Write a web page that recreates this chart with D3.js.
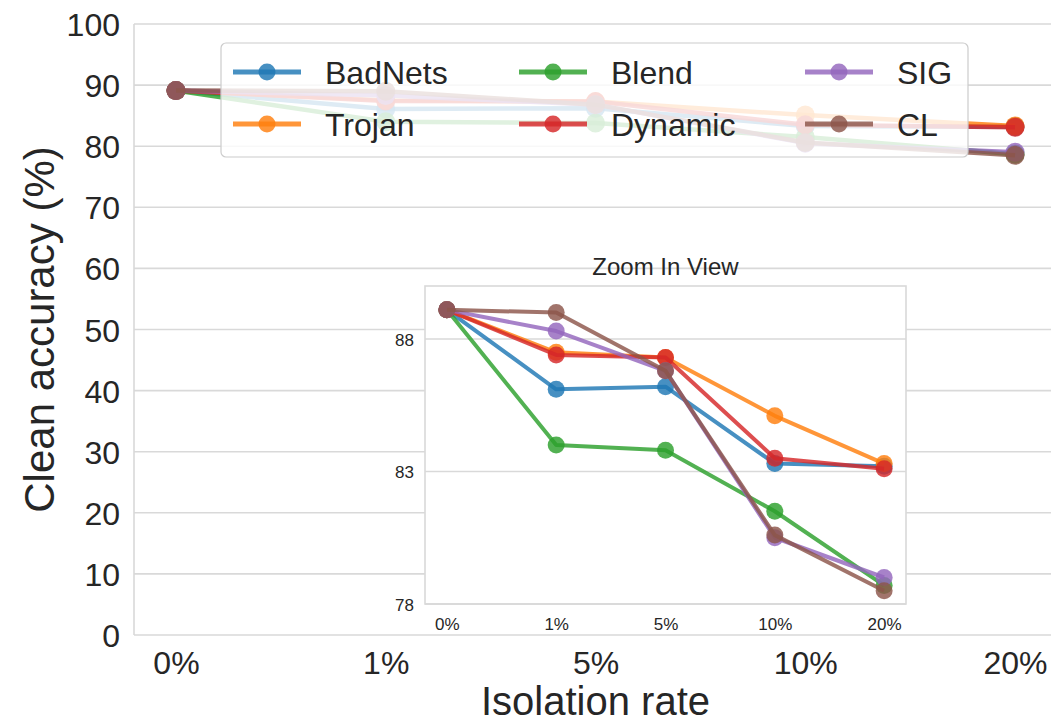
<!DOCTYPE html>
<html>
<head>
<meta charset="utf-8">
<script src="https://cdn.jsdelivr.net/npm/d3@7"></script>
<style>
  body { margin: 0; background: #fff; }
  svg text { font-family: "Liberation Sans", Arial, sans-serif; fill: #262626; }
</style>
</head>
<body>
<svg id="chart" width="1051" height="724"></svg>
<script>
// isolation rates on the x axis
var rates = ["0%", "1%", "5%", "10%", "20%"];

// clean accuracy per attack
var badnets = [89.1, 86.1, 86.2, 83.3, 83.2];
var trojan  = [89.1, 87.5, 87.3, 85.1, 83.3];
var blend   = [89.1, 84.0, 83.8, 81.5, 78.7];
var dynamic = [89.1, 87.4, 87.3, 83.5, 83.1];
var sig     = [89.1, 88.3, 86.8, 80.5, 79.0];
var cl      = [89.1, 89.0, 86.8, 80.6, 78.5];

var names  = ["BadNets", "Trojan", "Blend", "Dynamic", "SIG", "CL"];
var values = [badnets, trojan, blend, dynamic, sig, cl];
var colors = ["#1f77b4", "#ff7f0e", "#2ca02c", "#d62728", "#9467bd", "#8c564b"];

var mainTicks  = d3.range(0, 101, 10);
var insetTicks = [78, 83, 88];

var GRID = "#d9d9d9";
var ALPHA = 0.82;

var series = names.map(function(n, i) {
  return { name: n, color: colors[i], vals: values[i] };
});

var svg = d3.select("#chart");

// ---------- main axes ----------
var M = { left: 134, right: 1057, top: 24, bottom: 635 };

var x = d3.scaleLinear().domain([-0.2, rates.length - 1 + 0.2]).range([M.left, M.right]);
var y = d3.scaleLinear().domain([0, 100]).range([M.bottom, M.top]);

var main = svg.append("g").attr("class", "main");

main.append("g").selectAll("line")
    .data(mainTicks)
    .enter().append("line")
    .attr("x1", M.left).attr("x2", M.right)
    .attr("y1", function(d) { return y(d); })
    .attr("y2", function(d) { return y(d); })
    .attr("stroke", GRID).attr("stroke-width", 1.6);

// spines
main.append("line").attr("x1", M.left).attr("x2", M.left)
    .attr("y1", M.top).attr("y2", M.bottom)
    .attr("stroke", GRID).attr("stroke-width", 1.6);

var yAxis = d3.axisLeft(y).tickValues(mainTicks).tickSize(0).tickPadding(14);
main.append("g")
    .attr("transform", "translate(" + M.left + ",0)")
    .call(yAxis)
    .call(function(g) { g.select(".domain").remove(); })
    .selectAll("text")
    .style("font-size", "32px")
    .attr("dy", "0.36em");

var xAxis = d3.axisBottom(x)
    .tickValues(d3.range(rates.length))
    .tickFormat(function(i) { return rates[i]; })
    .tickSize(0).tickPadding(16);
main.append("g")
    .attr("transform", "translate(0," + M.bottom + ")")
    .call(xAxis)
    .call(function(g) { g.select(".domain").remove(); })
    .selectAll("text")
    .style("font-size", "32px")
    .attr("dy", "0.71em");

main.append("text")
    .attr("x", (M.left + M.right) / 2).attr("y", 715)
    .attr("text-anchor", "middle")
    .style("font-size", "40px")
    .text("Isolation rate");

main.append("text")
    .attr("transform", "translate(54," + (M.top + M.bottom) / 2 + ") rotate(-90)")
    .attr("text-anchor", "middle")
    .style("font-size", "42px")
    .text("Clean accuracy (%)");

function drawSeries(g, xs, ys, lw, r) {
  var line = d3.line()
      .x(function(d, i) { return xs(i); })
      .y(function(d) { return ys(d); });

  var s = g.selectAll(".series")
      .data(series)
      .enter().append("g")
      .attr("class", "series");

  s.append("path")
      .attr("d", function(d) { return line(d.vals); })
      .attr("fill", "none")
      .attr("stroke", function(d) { return d.color; })
      .attr("stroke-width", lw)
      .attr("stroke-opacity", ALPHA)
      .attr("stroke-linejoin", "round");

  s.selectAll("circle")
      .data(function(d) { return d.vals.map(function(v) { return { v: v, c: d.color }; }); })
      .enter().append("circle")
      .attr("cx", function(d, i) { return xs(i); })
      .attr("cy", function(d) { return ys(d.v); })
      .attr("r", r)
      .attr("fill", function(d) { return d.c; })
      .attr("fill-opacity", ALPHA);
}

drawSeries(main, x, y, 4.5, 9.5);

// ---------- legend ----------
var legend = svg.append("g").attr("transform", "translate(221,43)");
legend.append("rect")
    .attr("width", 747).attr("height", 114)
    .attr("rx", 5)
    .attr("fill", "#fff").attr("fill-opacity", 0.82)
    .attr("stroke", "#cccccc").attr("stroke-width", 1.2);

var item = legend.selectAll(".item")
    .data(series)
    .enter().append("g")
    .attr("class", "item")
    .attr("transform", function(d, i) {
      var col = Math.floor(i / 2), row = i % 2;
      return "translate(" + (12 + col * 286) + "," + (29 + row * 52) + ")";
    });

item.append("line")
    .attr("x1", 0).attr("x2", 68)
    .attr("stroke", function(d) { return d.color; })
    .attr("stroke-width", 5)
    .attr("stroke-opacity", ALPHA);
item.append("circle")
    .attr("cx", 34).attr("r", 8.5)
    .attr("fill", function(d) { return d.color; })
    .attr("fill-opacity", ALPHA);
item.append("text")
    .attr("x", 92).attr("dy", "0.36em")
    .style("font-size", "32px")
    .text(function(d) { return d.name; });

// ---------- zoom in panel ----------
var I = { left: 425, right: 906, top: 286, bottom: 604 };
var xi = d3.scaleLinear().domain([-0.2, rates.length - 1 + 0.2]).range([I.left, I.right]);
var yi = d3.scaleLinear().domain([78, 90]).range([I.bottom, I.top]);

var inset = svg.append("g").attr("class", "inset");

inset.append("rect")
    .attr("x", I.left).attr("y", I.top)
    .attr("width", I.right - I.left).attr("height", I.bottom - I.top)
    .attr("fill", "#fff");

inset.append("g").selectAll("line")
    .data(insetTicks)
    .enter().append("line")
    .attr("x1", I.left).attr("x2", I.right)
    .attr("y1", function(d) { return yi(d); })
    .attr("y2", function(d) { return yi(d); })
    .attr("stroke", GRID).attr("stroke-width", 1.6);

inset.append("rect")
    .attr("x", I.left).attr("y", I.top)
    .attr("width", I.right - I.left).attr("height", I.bottom - I.top)
    .attr("fill", "none")
    .attr("stroke", GRID).attr("stroke-width", 1.6);

inset.append("g")
    .attr("transform", "translate(" + I.left + ",0)")
    .call(d3.axisLeft(yi).tickValues(insetTicks).tickSize(0).tickPadding(11))
    .call(function(g) { g.select(".domain").remove(); })
    .selectAll("text")
    .style("font-size", "17px")
    .attr("dy", "0.36em");

inset.append("g")
    .attr("transform", "translate(0," + I.bottom + ")")
    .call(d3.axisBottom(xi)
      .tickValues(d3.range(rates.length))
      .tickFormat(function(i) { return rates[i]; })
      .tickSize(0).tickPadding(14))
    .call(function(g) { g.select(".domain").remove(); })
    .selectAll("text")
    .style("font-size", "17px")
    .attr("dy", "0.71em");

inset.append("text")
    .attr("x", (I.left + I.right) / 2).attr("y", 275)
    .attr("text-anchor", "middle")
    .style("font-size", "24px")
    .text("Zoom In View");

drawSeries(inset, xi, yi, 4, 8.5);
</script>
</body>
</html>
